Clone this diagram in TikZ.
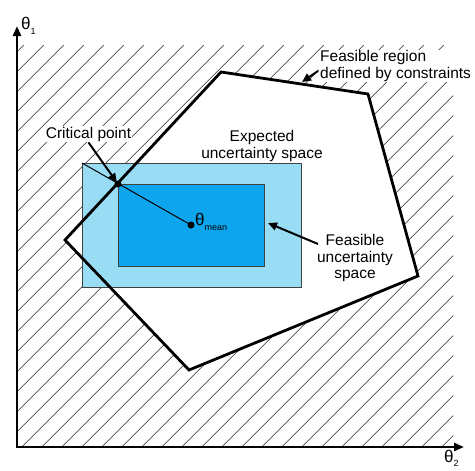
\documentclass[tikz,border=0pt]{standalone}
\usepackage{fontspec}
\setmainfont{Liberation Sans}
\usetikzlibrary{arrows.meta}
\definecolor{lightblue}{RGB}{153,221,245}
\definecolor{darkblue}{RGB}{13,165,238}
\begin{document}
\begin{tikzpicture}[x=1pt,y=-1pt,
 hatch/.style={line width=0.6pt, draw=black!85},
 boundary/.style={line width=2.8pt, line join=miter},
 axis/.style={line width=2.8pt, line join=miter},
 rectline/.style={line width=0.8pt, draw=black!75},
 arr/.style={line width=2pt, -{Triangle[length=9pt,width=8pt]}},
 lbl/.style={font=\fontsize{15.5}{16.5}\selectfont, fill=white, inner sep=1pt, align=center},
 greek/.style={anchor=base west, inner sep=0pt, font=\fontsize{17}{17}\selectfont},
 dot/.style={circle, fill=black, inner sep=0pt, minimum size=7pt}]
\useasboundingbox (0,0) rectangle (475,471);
% polygon vertices
\coordinate (A) at (221,72);
\coordinate (B) at (368,94);
\coordinate (C) at (418,276);
\coordinate (D) at (189,370);
\coordinate (E) at (65,240);
% axes
\coordinate (ytip) at (17,26);
\coordinate (origin) at (17,447);
\coordinate (xtip) at (464,447);
% hatch
\begin{scope}
\clip (17,45) rectangle (453,447);
\foreach \k in {0,...,43} {
  \pgfmathsetmacro\c{48.7+20*\k}
  \draw[hatch] (\c-500,500) -- (\c+100,-100);
}
\end{scope}
\fill[white] (A)--(B)--(C)--(D)--(E)--cycle;
% uncertainty rectangles
\coordinate (oc) at (82,163);
\filldraw[fill=lightblue, rectline] (oc) rectangle (301,287);
\filldraw[fill=darkblue, rectline] (118,184) rectangle (264,266);
% feasible region boundary
\draw[boundary] (A)--(B)--(C)--(D)--(E)--cycle;
% axes
\draw[axis, {Triangle[length=10pt,width=8pt]}-{Triangle[length=10pt,width=8pt]}] (ytip) -- (origin) -- (xtip);
% points
\node[dot] (cpdot) at (118,184) {};
\node[dot] (meandot) at (191,225) {};
\draw[line width=1pt] (oc) -- (meandot.center);
% labels
\node[greek] (t1) at (21,30) {θ\raisebox{-5pt}{\fontsize{9}{9}\selectfont 1}};
\node[greek] (t2) at (444,462) {θ\raisebox{-4pt}{\fontsize{9}{9}\selectfont 2}};
\node[greek] (tmean) at (195,225) {θ\raisebox{-5pt}{\fontsize{9}{9}\selectfont mean}};
\node[lbl] (crit) at (88.5,134) {Critical point};
\node[lbl] (exp) at (262,146) {Expected\\uncertainty space};
\node[lbl] (fus) at (355,258) {Feasible\\uncertainty\\space};
\node[lbl, align=left, anchor=west] (freg) at (319,66) {Feasible region\\defined by constraints};
% arrows
\coordinate (fusTail) at (318,244);
\coordinate (fusHead) at (268,223);
\coordinate (fregTail) at (318,71);
\coordinate (fregHead) at (302,82);
\draw[arr, shorten >=2pt] (crit.south) -- (cpdot.center);
\draw[arr] (fusTail) -- (fusHead);
\draw[arr] (fregTail) -- (fregHead);
\end{tikzpicture}
\end{document}
